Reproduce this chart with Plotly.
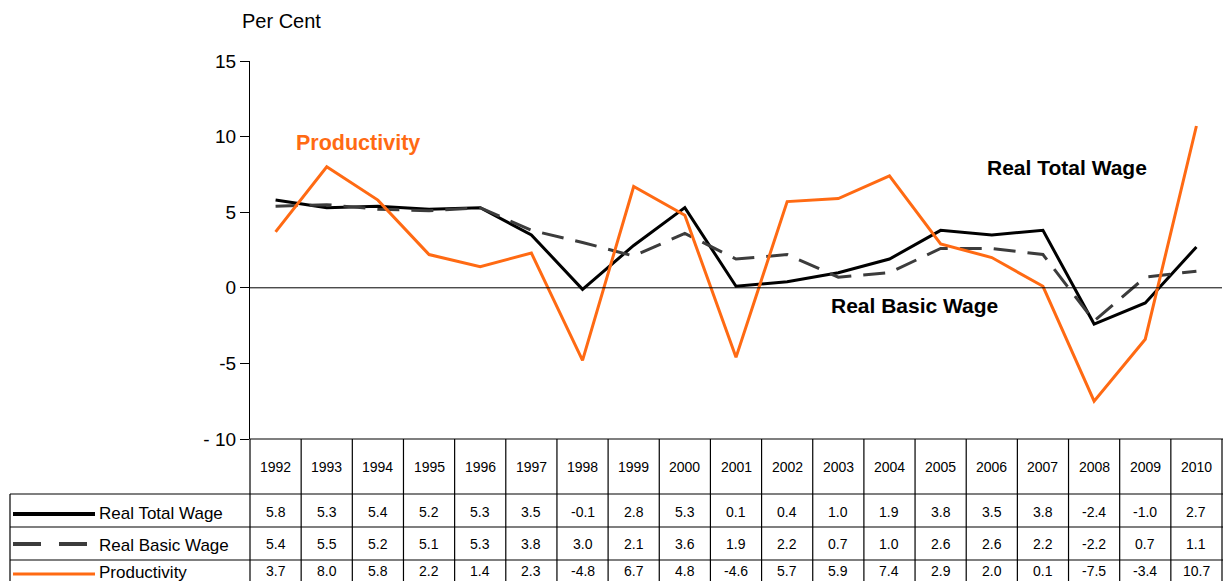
import plotly.graph_objects as go

years = [1992, 1993, 1994, 1995, 1996, 1997, 1998, 1999, 2000, 2001,
         2002, 2003, 2004, 2005, 2006, 2007, 2008, 2009, 2010]
real_total_wage = [5.8, 5.3, 5.4, 5.2, 5.3, 3.5, -0.1, 2.8, 5.3, 0.1,
                   0.4, 1.0, 1.9, 3.8, 3.5, 3.8, -2.4, -1.0, 2.7]
real_basic_wage = [5.4, 5.5, 5.2, 5.1, 5.3, 3.8, 3.0, 2.1, 3.6, 1.9,
                   2.2, 0.7, 1.0, 2.6, 2.6, 2.2, -2.2, 0.7, 1.1]
productivity = [3.7, 8.0, 5.8, 2.2, 1.4, 2.3, -4.8, 6.7, 4.8, -4.6,
                5.7, 5.9, 7.4, 2.9, 2.0, 0.1, -7.5, -3.4, 10.7]
series_names = ["Real Total Wage", "Real Basic Wage", "Productivity"]
y_ticks = [15, 10, 5, 0, -5, -10]
y_tick_text = ["15", "10", "5", "0", "-5", "- 10"]

W, H = 1223, 581
ML, MR, MT, MB = 250, 1, 61, 142
PW, PH = W - ML - MR, H - MT - MB

ORANGE = "#FF6A13"
DARK = "#3c3c3c"
FONT = "Liberation Sans, Arial, sans-serif"

def px(xp):
    return (xp - ML) / PW

def py(yp):
    return (H - MB - yp) / PH

fig = go.Figure()
fig.add_trace(go.Scatter(x=years, y=real_total_wage, mode="lines", name=series_names[0],
                         line=dict(color="black", width=3), cliponaxis=False))
fig.add_trace(go.Scatter(x=years, y=real_basic_wage, mode="lines", name=series_names[1],
                         line=dict(color=DARK, width=3, dash="22px,12px"), cliponaxis=False))
fig.add_trace(go.Scatter(x=years, y=productivity, mode="lines", name=series_names[2],
                         line=dict(color=ORANGE, width=3), cliponaxis=False))

shapes = []
annotations = []
n = len(years)
col_w = 1.0 / n

def ann(x, y, text, size, color="black", family=FONT, xanchor="center"):
    annotations.append(dict(x=x, y=y, xref="paper", yref="paper", text=text, showarrow=False,
                            xanchor=xanchor, yanchor="middle",
                            font=dict(size=size, color=color, family=family)))

# zero line
shapes.append(dict(type="line", xref="paper", yref="y", x0=0, x1=1, y0=0, y1=0,
                   line=dict(color="black", width=1)))

# table geometry (pixel rows)
top = H - MB
hdr_bot = 494
row_bounds = [494, 527, 560]
left_x = 10

lc = dict(color="black", width=1.2)
shapes.append(dict(type="line", xref="paper", yref="paper", x0=0, x1=1.01, y0=py(top), y1=py(top), line=lc))
for rb in row_bounds:
    shapes.append(dict(type="line", xref="paper", yref="paper", x0=px(left_x), x1=1.01,
                       y0=py(rb), y1=py(rb), line=lc))
for i in range(n + 1):
    shapes.append(dict(type="line", xref="paper", yref="paper", x0=i * col_w, x1=i * col_w,
                       y0=py(top), y1=py(H + 5), line=lc))
shapes.append(dict(type="line", xref="paper", yref="paper", x0=px(left_x), x1=px(left_x),
                   y0=py(hdr_bot), y1=py(H + 5), line=lc))

# header year labels
for i, yr in enumerate(years):
    ann((i + 0.5) * col_w, py(467), str(yr), 14)

rows = [real_total_wage, real_basic_wage, productivity]
row_centers = [512, 544, 571]
legend_styles = [dict(color="black", width=4), dict(color=DARK, width=4, dash="28px,18px"),
                 dict(color=ORANGE, width=3)]
legend_line_y = [514, 544, 574]
for r, vals in enumerate(rows):
    yc = row_centers[r]
    for i, v in enumerate(vals):
        ann((i + 0.5) * col_w, py(yc), f"{v:.1f}", 14)
    shapes.append(dict(type="line", xref="paper", yref="paper", x0=px(13), x1=px(95),
                       y0=py(legend_line_y[r]), y1=py(legend_line_y[r]), line=legend_styles[r]))
    ann(px(97), py(yc + 1), series_names[r], 17, xanchor="left")

# chart labels
ann(px(240), py(21), "Per Cent", 20, xanchor="left")
ann(px(294), py(143), "<b>Productivity</b>", 21.5, color=ORANGE, xanchor="left")
ann(px(985), py(167), "<b>Real Total Wage</b>", 21, xanchor="left")
ann(px(829), py(305), "<b>Real Basic Wage</b>", 21, xanchor="left")

fig.update_layout(
    width=W, height=H,
    margin=dict(l=ML, r=MR, t=MT, b=MB),
    paper_bgcolor="white", plot_bgcolor="white",
    showlegend=False,
    shapes=shapes, annotations=annotations,
    font=dict(family=FONT, color="black"),
    xaxis=dict(range=[years[0] - 0.5, years[-1] + 0.5], showticklabels=False, showgrid=False,
               zeroline=False, showline=False, ticks=""),
    yaxis=dict(range=[-10, 15], tickvals=y_ticks, ticktext=y_tick_text,
               showgrid=False, zeroline=False, showline=True, linecolor="black", linewidth=1.2,
               ticks="outside", ticklen=9, tickcolor="black", tickwidth=1.2,
               tickfont=dict(size=19, color="black", family=FONT)),
)

fig.write_html("out.html", config={"displayModeBar": False},
               post_script="document.body.style.margin='0';document.body.style.overflow='hidden';")
